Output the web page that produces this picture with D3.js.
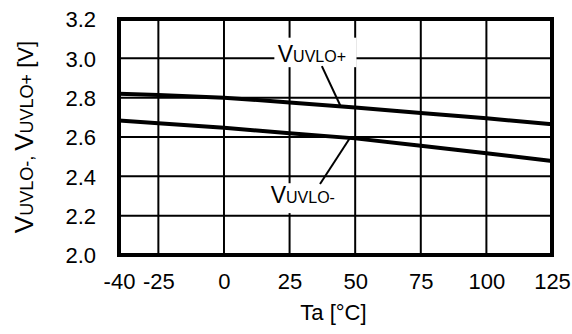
<!DOCTYPE html>
<html><head><meta charset="utf-8">
<script src="https://cdn.jsdelivr.net/npm/d3@7"></script>
<style>
html,body{margin:0;padding:0;background:#fff;}
text{font-family:"Liberation Sans",Arial,sans-serif;fill:#000;}
</style></head>
<body><svg id="c" width="572" height="334"></svg>
<script>
const temps = [-40, -25, 0, 25, 50, 75, 100, 125];
const vPlus = [2.820, 2.813, 2.800, 2.776, 2.750, 2.722, 2.695, 2.665];
const vMinus = [2.684, 2.670, 2.647, 2.619, 2.593, 2.556, 2.517, 2.478];
const xTicks = [-40, -25, 0, 25, 50, 75, 100, 125];
const yTicks = [2.0, 2.2, 2.4, 2.6, 2.8, 3.0, 3.2];

const m = {l:119, t:19, r:20, b:79};
const W = 572, H = 334;
const w = W - m.l - m.r, h = H - m.t - m.b;
const svg = d3.select("#c");
const g = svg.append("g").attr("transform", `translate(${m.l},${m.t})`);
const x = d3.scaleLinear().domain([-40,125]).range([0,w]);
const y = d3.scaleLinear().domain([2.0,3.2]).range([h,0]);

// grid
g.append("g").selectAll("line").data(xTicks.slice(1,-1)).join("line")
  .attr("x1",d=>x(d)).attr("x2",d=>x(d)).attr("y1",0).attr("y2",h)
  .attr("stroke","#000").attr("stroke-width",2);
g.append("g").selectAll("line").data(yTicks.slice(1,-1)).join("line")
  .attr("y1",d=>y(d)).attr("y2",d=>y(d)).attr("x1",0).attr("x2",w)
  .attr("stroke","#000").attr("stroke-width",2);

// axes labels via d3 axes
const xa = g.append("g").attr("transform",`translate(0,${h})`)
  .call(d3.axisBottom(x).tickValues(xTicks).tickSize(0).tickPadding(0).tickFormat(d=>String(d)));
xa.select(".domain").remove();
xa.selectAll("text").attr("font-size",22).attr("dy",null).attr("y",34)
  .style("font-family",'"Liberation Sans",Arial,sans-serif');
const ya = g.append("g")
  .call(d3.axisLeft(y).tickValues(yTicks).tickSize(0).tickPadding(0).tickFormat(d=>d.toFixed(1)));
ya.select(".domain").remove();
ya.selectAll("text").attr("font-size",22).attr("x",-23).attr("dy","0.36em")
  .style("font-family",'"Liberation Sans",Arial,sans-serif');

// curves
const line = d3.line().x((d,i)=>x(temps[i])).y(d=>y(d));
g.append("path").datum(vPlus).attr("d",line).attr("fill","none").attr("stroke","#000").attr("stroke-width",4);
g.append("path").datum(vMinus).attr("d",line).attr("fill","none").attr("stroke","#000").attr("stroke-width",4);

// labels
function label(tx, ty, sub, bx0, bx1, by0, by1, lx0, ly0, lx1, ly1){
  g.append("rect").attr("x",x(bx0)).attr("y",y(by1)).attr("width",x(bx1)-x(bx0)).attr("height",y(by0)-y(by1)).attr("fill","#fff");
  g.append("line").attr("x1",x(lx0)).attr("y1",y(ly0)).attr("x2",x(lx1)).attr("y2",y(ly1)).attr("stroke","#000").attr("stroke-width",2);
  const t = g.append("text").attr("x",x(tx)).attr("y",y(ty));
  t.append("tspan").attr("font-size",23).text("V");
  t.append("tspan").attr("font-size",16).text(sub);
}
label(20.5, 2.983, "UVLO+", 19.2, 50.5, 2.955, 3.105, 37.3, 2.96, 44.5, 2.755);
label(17.8, 2.263, "UVLO-", 17.0, 45.0, 2.213, 2.365, 36.6, 2.361, 48.0, 2.595);

// frame
g.append("rect").attr("x",0).attr("y",0).attr("width",w).attr("height",h)
  .attr("fill","none").attr("stroke","#000").attr("stroke-width",4);

// titles
svg.append("text").attr("x",m.l+w/2-2).attr("y",319.5).attr("text-anchor","middle").attr("font-size",22).text("Ta [°C]");
const yt = svg.append("text").attr("transform",`translate(33,${m.t+h/2}) rotate(-90)`).attr("text-anchor","middle");
yt.append("tspan").attr("font-size",26).text("V");
yt.append("tspan").attr("font-size",18).text("UVLO-, ");
yt.append("tspan").attr("font-size",26).text("V");
yt.append("tspan").attr("font-size",18).text("UVLO+");
yt.append("tspan").attr("font-size",22).text(" [V]");
</script></body></html>
